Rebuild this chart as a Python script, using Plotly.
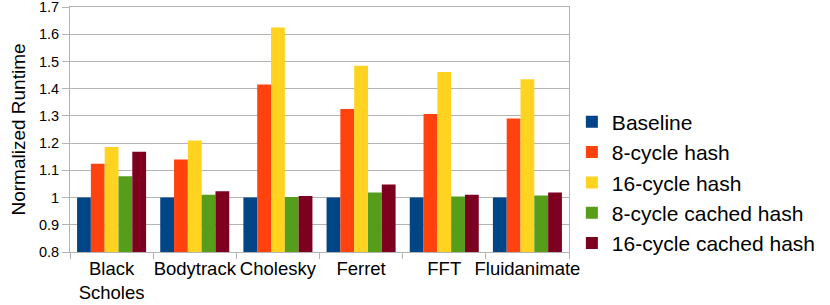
import plotly.graph_objects as go

categories = ["Black<br>Scholes", "Bodytrack", "Cholesky", "Ferret", "FFT", "Fluidanimate"]
series_names = ["Baseline", "8-cycle hash", "16-cycle hash", "8-cycle cached hash", "16-cycle cached hash"]
baseline = [1.0, 1.0, 1.0, 1.0, 1.0, 1.0]
hash8 = [1.124, 1.140, 1.415, 1.325, 1.307, 1.290]
hash16 = [1.186, 1.210, 1.625, 1.484, 1.461, 1.435]
cached8 = [1.078, 1.010, 1.002, 1.019, 1.004, 1.008]
cached16 = [1.168, 1.023, 1.006, 1.048, 1.010, 1.019]
y_ticks = [0.8, 0.9, 1.0, 1.1, 1.2, 1.3, 1.4, 1.5, 1.6, 1.7]
y_tick_labels = ["0.8", "0.9", "1", "1.1", "1.2", "1.3", "1.4", "1.5", "1.6", "1.7"]

colors = ["#004586", "#ff420e", "#ffd320", "#579d1c", "#7e0021"]
values = [baseline, hash8, hash16, cached8, cached16]

fig = go.Figure()
for i, (name, vals) in enumerate(zip(series_names, values)):
    fig.add_trace(go.Bar(
        x=categories, y=vals, name=name,
        marker=dict(color=colors[i], line=dict(width=0)),
        base=0,
    ))

font = "Liberation Sans, Arial, sans-serif"
fig.update_layout(
    width=830, height=305,
    margin=dict(l=70, r=261, t=7, b=53),
    paper_bgcolor="white", plot_bgcolor="white",
    barmode="group", bargap=0.17, bargroupgap=0,
    font=dict(family=font, color="#000000"),
    showlegend=True,
    legend=dict(
        xref="container", yref="paper",
        x=0.689, y=0.283, xanchor="left", yanchor="middle",
        font=dict(size=21, family=font, color="#000000"),
        traceorder="normal",
        itemwidth=30,
    ),
    xaxis=dict(
        type="category", automargin=False, tickangle=0,
        showgrid=False, showline=True, linecolor="#b3b3b3", linewidth=1,
        ticks="outside", tickson="boundaries", ticklen=6, tickcolor="#b3b3b3",
        tickfont=dict(size=18.5, family=font, color="#000000"),
        mirror=True,
    ),
    yaxis=dict(
        range=[0.8, 1.7], tickvals=y_ticks, ticktext=y_tick_labels,
        automargin=False, ticklabeloverflow="allow",
        showgrid=True, gridcolor="#b3b3b3", gridwidth=1,
        showline=True, linecolor="#b3b3b3", linewidth=1,
        ticks="outside", ticklen=7, tickcolor="#b3b3b3",
        tickfont=dict(size=14.5, family=font, color="#000000"),
        title=dict(text="Normalized Runtime", font=dict(size=19, family=font, color="#000000"), standoff=8),
        zeroline=False, mirror=True,
    ),
)

fig.write_html("out.html", config={"displayModeBar": False},
               post_script="document.body.style.margin='0';")
